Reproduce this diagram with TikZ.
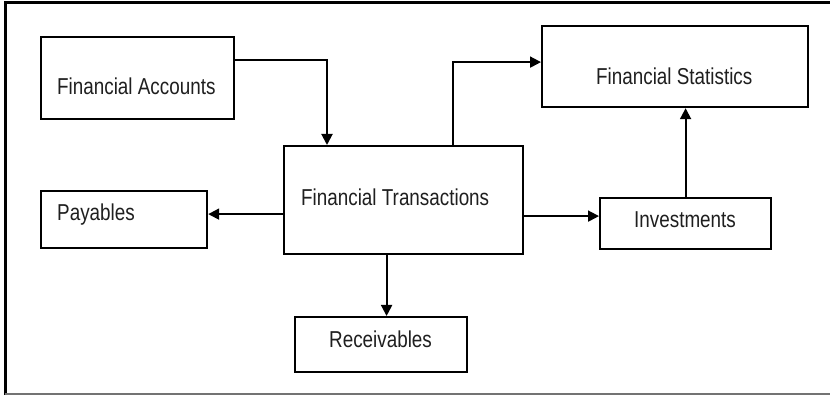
\documentclass[tikz,border=0pt]{standalone}
\usepackage{fontspec}
\setmainfont{Liberation Sans}[FakeStretch=0.82]
\usetikzlibrary{arrows.meta}
\begin{document}
\begin{tikzpicture}[x=1pt,y=-1pt,
  box/.style={draw=black,line width=2.2pt,minimum width=#1,inner sep=0pt,anchor=north west},
  lbl/.style={anchor=base west,inner sep=0pt,font=\fontsize{23}{27}\selectfont,text=black!88},
  arr/.style={draw=black,line width=1.9pt,-{Triangle[length=11pt,width=11pt]}}]
\useasboundingbox (0,0) rectangle (830,395);
\fill[white] (0,0) rectangle (830,395);
\draw[line width=3pt] (5,395) -- (5,3) -- (830,3);
\draw[line width=1.5pt,black!55] (5,394) -- (830,394);
% boxes
\node[box=193pt,minimum height=82pt] (FA) at (40,36) {};
\node[box=239pt,minimum height=108pt] (FT) at (283,145) {};
\node[box=166pt,minimum height=57pt] (PA) at (40,190) {};
\node[box=172pt,minimum height=55pt] (RE) at (294,316) {};
\node[box=171pt,minimum height=51pt] (IN) at (599,197) {};
\node[box=266pt,minimum height=81pt] (FS) at (541,25) {};
% labels
\node[lbl] (tFA) at (57,95) {Financial Accounts};
\node[lbl] (tFT) at (301,206) {Financial Transactions};
\node[lbl] (tPA) at (57,221) {Payables};
\node[lbl] (tRE) at (329,348) {Receivables};
\node[lbl] (tIN) at (634,228) {Investments};
\node[lbl] (tFS) at (596,85) {Financial Statistics};
% connectors
\draw[arr] ([yshift=-24pt]FA.north east) -| ([xshift=44pt]FT.north west);
\draw[arr] ([yshift=-14pt]FT.west) -- ([yshift=-14pt]FT.west -| PA.east);
\draw[arr] ([xshift=-17pt]FT.south) -- ([xshift=-17pt]FT.south |- RE.north);
\draw[arr] ([yshift=-16pt]FT.east) -- ([yshift=-16pt]FT.east -| IN.west);
\draw[arr] ([xshift=-71pt]FT.north east) |- ([yshift=4.5pt]FS.west);
\draw[arr] (IN.north) -- (IN.north |- FS.south);
\end{tikzpicture}
\end{document}
